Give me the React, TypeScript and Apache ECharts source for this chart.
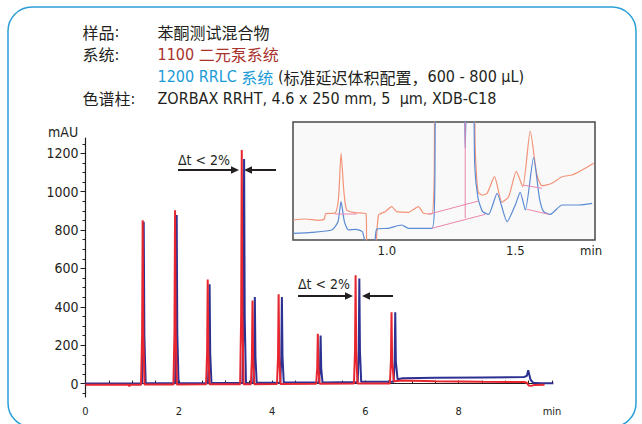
import React, { useEffect, useRef } from 'react';
import * as echarts from 'echarts';

const NARROW = "'Liberation Sans Narrow', 'DejaVu Sans Condensed', 'Arial Narrow', sans-serif";
const CJK = "'Noto Sans CJK SC', sans-serif";

// Main chromatogram axes
const yTickValues = [0, 200, 400, 600, 800, 1000, 1200];
const yMinorTickValues = [-50, 50, 100, 150, 250, 300, 350, 450, 500, 550, 650, 700, 750, 850, 900, 950, 1050, 1100, 1150, 1250];

// 1200 RRLC (blue) trace: [min, mAU]
const blueTrace: [number, number][] = [
  [0, 1], [1.21, 1], [1.235, 250], [1.248, 843], [1.262, 250], [1.29, 2],
  [1.92, 2], [1.942, 260], [1.955, 878], [1.968, 260], [1.995, 2],
  [2.625, 2], [2.647, 160], [2.66, 517], [2.673, 160], [2.7, 3],
  [3.365, 3], [3.387, 350], [3.4, 1170], [3.413, 350], [3.44, 3],
  [3.595, 4], [3.617, 140], [3.63, 451], [3.643, 140], [3.67, 4],
  [4.175, 4], [4.197, 140], [4.21, 451], [4.223, 140], [4.25, 5],
  [5.005, 6], [5.027, 80], [5.04, 250], [5.053, 80], [5.08, 6],
  [5.835, 8], [5.857, 170], [5.87, 547], [5.883, 170], [5.91, 9],
  [6.605, 10], [6.627, 115], [6.64, 372], [6.653, 115], [6.69, 22],
  [6.8, 28], [7.5, 30], [8.5, 32], [9.4, 34], [9.46, 40], [9.49, 69], [9.54, 20], [9.6, 4], [9.75, 2], [10.03, 2],
];

// 1100 binary pump (red) trace: [min, mAU]
const redTrace: [number, number][] = [
  [0, -6], [0.92, -6], [0.94, -14], [0.96, -6],
  [1.19, -6], [1.213, 250], [1.226, 851], [1.239, 250], [1.265, -5],
  [1.885, -5], [1.907, 270], [1.92, 904], [1.933, 270], [1.96, -5],
  [2.585, -4], [2.607, 165], [2.62, 543], [2.633, 165], [2.66, -4],
  [3.315, -4], [3.337, 365], [3.35, 1217], [3.363, 365], [3.39, -3],
  [3.545, -3], [3.567, 130], [3.58, 433], [3.593, 130], [3.62, -3],
  [4.105, -2], [4.127, 140], [4.14, 465], [4.153, 140], [4.18, -2],
  [4.945, -1], [4.967, 80], [4.98, 259], [4.993, 80], [5.02, -1],
  [5.755, 0], [5.777, 170], [5.79, 564], [5.803, 170], [5.83, 0],
  [6.525, 1], [6.547, 115], [6.56, 372], [6.573, 115], [6.61, 12],
  [6.8, 16], [7.5, 12], [8.5, 9], [9.4, 8], [9.46, 4], [9.5, -10], [9.56, -12], [9.62, -7], [9.84, -6],
];

// Inset (zoom of 0.6–1.8 min), arbitrary units
const insetXLabels = [1.0, 1.5];
const insetOrange: [number, number][] = [
  [0.636, 20], [0.682, 21], [0.734, 19.7], [0.757, 21], [0.762, 26.3], [0.799, 27], [0.812, 41.7], [0.822, 86.7],
  [0.833, 48.3], [0.844, 30], [0.877, 27.3], [0.919, 26.3], [0.923, -5], [0.944, -8], [0.957, -5], [0.968, 25],
  [0.994, 28.3], [1.019, 33.3], [1.039, 28.3], [1.084, 27.7], [1.123, 33.3], [1.143, 26.7], [1.175, 26],
  [1.184, 58], [1.191, 200], [1.335, 200], [1.344, 91.7], [1.355, 48.3], [1.37, 45], [1.39, 46.7], [1.419, 63.3],
  [1.448, 37.7], [1.474, 43.3], [1.504, 68.3], [1.529, 53.3], [1.558, 109], [1.584, 65], [1.604, 54.3],
  [1.643, 56.7], [1.682, 63.3], [1.721, 65], [1.76, 70], [1.805, 76.7],
];
const insetBlue: [number, number][] = [
  [0.636, 6.7], [0.708, 7.7], [0.786, 10], [0.81, 18.3], [0.822, 38.3], [0.835, 18.3], [0.851, 10], [0.879, 10.7],
  [0.905, 8.3], [0.918, -5], [0.935, -8], [0.952, -5], [0.961, 11], [1.006, 11.7], [1.058, 15], [1.084, 11.7],
  [1.175, 11.7], [1.186, 41.7], [1.195, 200], [1.294, 200], [1.305, 91.7], [1.316, 200], [1.334, 200],
  [1.342, 75], [1.355, 41.7], [1.373, 28.3], [1.396, 25.7], [1.429, 46.7], [1.468, 18.3], [1.5, 35], [1.519, 47.7],
  [1.539, 30], [1.571, 82.3], [1.594, 41.7], [1.61, 28.3], [1.636, 25.7], [1.682, 35], [1.747, 35], [1.799, 36.7],
];
const insetBaselines: [number, number][][] = [
  [[0.799, 26], [0.883, 26]],
  [[1.162, 25.7], [1.357, 39]],
  [[1.175, 11.7], [1.383, 25.7]],
  [[1.305, 22], [1.305, 118]],
  [[1.529, 55], [1.604, 51.7]],
  [[1.545, 30.7], [1.63, 25.7]],
];

const RED = '#e8262f';
const BLUE = '#2c3192';
const INK = '#231f20';

function arrow(x1: number, x2: number, y: number) {
  const dir = x2 > x1 ? 1 : -1;
  const tip = x2;
  const base = tip - dir * 8;
  return [
    { type: 'line', shape: { x1, y1: y, x2: base, y2: y }, style: { stroke: INK, lineWidth: 2 } },
    { type: 'polygon', shape: { points: [[tip, y], [base, y - 3.8], [base, y + 3.8]] }, style: { fill: INK } },
  ];
}

const rich = {
  l: { font: `16px ${NARROW}`, fill: INK },
  c: { font: `16px ${CJK}`, fill: INK },
  rl: { font: `16px ${NARROW}`, fill: '#a9322d' },
  rc: { font: `16px ${CJK}`, fill: '#a9322d' },
  bl: { font: `16px ${NARROW}`, fill: '#1a9bd7' },
  bc: { font: `16px ${CJK}`, fill: '#1a9bd7' },
};

export default function App() {
  const ref = useRef<HTMLDivElement>(null);
  useEffect(() => {
    const chart = echarts.init(ref.current!, null, { renderer: 'svg' });
    const labelFont = { fontFamily: NARROW, color: INK };
    const option: any = {
      animation: false,
      backgroundColor: '#ffffff',
      grid: [
        { left: 85.5, top: 138, width: 466.5, height: 259, outerBoundsMode: 'none' },
        {
          left: 293, top: 122, width: 302, height: 118, show: true, outerBoundsMode: 'none',
          backgroundColor: '#f9f9f9', borderColor: '#4a4a4a', borderWidth: 1.5, z: 5,
        },
      ],
      xAxis: [
        {
          gridIndex: 0, type: 'value', min: 0, max: 10, interval: 2,
          axisLine: { show: true, lineStyle: { color: INK, width: 1.2 } },
          axisTick: { show: true, inside: true, length: 3, lineStyle: { color: INK } },
          minorTick: { show: true, splitNumber: 4, length: 3, lineStyle: { color: INK } },
          splitLine: { show: false },
          axisLabel: {
            ...labelFont, fontSize: 11, margin: 9,
            showMinLabel: true, showMaxLabel: true,
            formatter: (v: number) => (v === 10 ? 'min' : String(v)),
          },
        },
        {
          gridIndex: 1, type: 'value', min: 0.635, max: 1.81, z: 6,
          axisLine: { show: false }, axisTick: { show: false }, splitLine: { show: false },
          axisLabel: {
            ...labelFont, fontSize: 13, margin: 4, customValues: insetXLabels,
            formatter: (v: number) => v.toFixed(1),
          },
        },
      ],
      yAxis: [
        {
          gridIndex: 0, type: 'value', min: -70, max: 1280,
          axisLine: { show: true, lineStyle: { color: INK, width: 1.2 } },
          axisTick: { show: true, length: 5, customValues: yTickValues, lineStyle: { color: INK } },
          splitLine: { show: false },
          axisLabel: {
            ...labelFont, fontSize: 14, margin: 7, customValues: yTickValues,
            formatter: (v: number) => String(v),
          },
        },
        {
          gridIndex: 0, type: 'value', min: -70, max: 1280, position: 'left',
          axisLine: { show: false },
          axisTick: { show: true, length: 3, customValues: yMinorTickValues, lineStyle: { color: INK } },
          splitLine: { show: false },
          axisLabel: { show: false },
        },
        { gridIndex: 1, type: 'value', min: 0, max: 118, show: false, splitLine: { show: false } },
      ],
      series: [
        {
          type: 'line', xAxisIndex: 0, yAxisIndex: 0, data: blueTrace, showSymbol: false,
          lineStyle: { color: BLUE, width: 2 }, z: 2,
        },
        {
          type: 'line', xAxisIndex: 0, yAxisIndex: 0, data: redTrace, showSymbol: false,
          lineStyle: { color: RED, width: 2 }, z: 3,
        },
        {
          type: 'line', xAxisIndex: 1, yAxisIndex: 2, data: insetOrange, showSymbol: false, smooth: 0.2,
          lineStyle: { color: '#f29478', width: 1.2 }, z: 7,
        },
        {
          type: 'line', xAxisIndex: 1, yAxisIndex: 2, data: insetBlue, showSymbol: false, smooth: 0.2,
          lineStyle: { color: '#5b8bd4', width: 1.2 }, z: 7,
        },
        ...insetBaselines.map((seg) => ({
          type: 'line', xAxisIndex: 1, yAxisIndex: 2, data: seg, showSymbol: false,
          lineStyle: { color: '#ea86ad', width: 1 }, z: 8,
        })),
      ],
      graphic: [
        {
          type: 'rect', shape: { x: 8, y: 7, width: 628, height: 420, r: 24 },
          style: { fill: 'none', stroke: '#2a9fd8', lineWidth: 1.5 }, z: 0,
        },
        { type: 'text', x: 82.5, y: 31.7, style: { text: '{c|样品}{l|:}', rich, verticalAlign: 'middle' } },
        { type: 'text', x: 82.5, y: 54, style: { text: '{c|系统}{l|:}', rich, verticalAlign: 'middle' } },
        { type: 'text', x: 82.5, y: 98.3, style: { text: '{c|色谱柱}{l|:}', rich, verticalAlign: 'middle' } },
        { type: 'text', x: 157.5, y: 31.7, style: { text: '{c|苯酮测试混合物}', rich, verticalAlign: 'middle' } },
        { type: 'text', x: 157.5, y: 54, style: { text: '{rl|1100 }{rc|二元泵系统}', rich, verticalAlign: 'middle' } },
        {
          type: 'text', x: 157.5, y: 76.5,
          style: { text: '{bl|1200 RRLC }{bc|系统}{l| (}{c|标准延迟体积配置，}{l|600 - 800 µL)}', rich, verticalAlign: 'middle' },
        },
        {
          type: 'text', x: 157.5, y: 98.3,
          style: { text: '{l|ZORBAX RRHT, 4.6 x 250 mm, 5  µm, XDB-C18}', rich, verticalAlign: 'middle' },
        },
        { type: 'text', x: 48, y: 132, style: { text: 'mAU', font: `14px ${NARROW}`, fill: INK, verticalAlign: 'middle' } },
        { type: 'text', x: 580, y: 250, style: { text: 'min', font: `13px ${NARROW}`, fill: INK, verticalAlign: 'middle' }, z: 10 },
        { type: 'text', x: 178, y: 160, style: { text: 'Δt < 2%', font: `14px ${NARROW}`, fill: INK, verticalAlign: 'middle' } },
        { type: 'text', x: 298, y: 284, style: { text: 'Δt < 2%', font: `14px ${NARROW}`, fill: INK, verticalAlign: 'middle' } },
        ...arrow(178, 239, 170),
        ...arrow(276, 244, 170),
        ...arrow(298, 353, 296),
        ...arrow(393, 362, 296),
      ],
    };
    chart.setOption(option);
    return () => chart.dispose();
  }, []);
  return (
    <div
      ref={ref}
      style={{ position: 'fixed', left: 0, top: 0, width: 642, height: 424, background: '#fff' }}
    />
  );
}
